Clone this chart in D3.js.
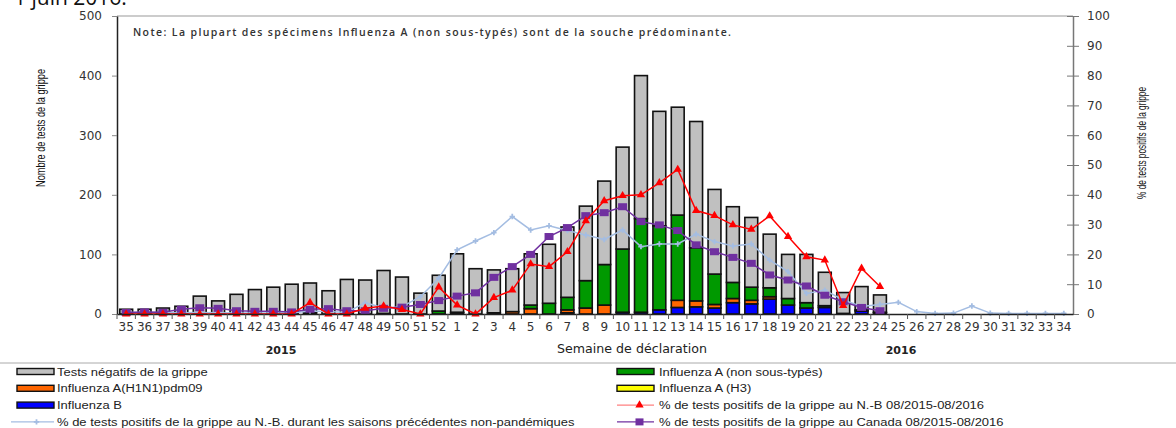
<!DOCTYPE html>
<html>
<head>
<meta charset="utf-8">
<script src="https://cdn.jsdelivr.net/npm/d3@7"></script>
<style>
  body { margin: 0; background: #fff; }
  svg text { font-family: "DejaVu Sans", sans-serif; }
</style>
</head>
<body>
<div id="chart"></div>
<script>
// weeks of the 2015-2016 season
var weeks = [35,36,37,38,39,40,41,42,43,44,45,46,47,48,49,50,51,52,
             1,2,3,4,5,6,7,8,9,10,11,12,13,14,15,16,17,18,19,20,21,22,23,24,25,26,27,28,29,30,31,32,33,34];

// counts (number of tests)
var negatives = [8,8,10,13,30,22,33,41,45,50,50,39,58,57,72,62,35,60,
                 98,76,72,72,86,99,118,125,140,171,240,192,181,212,142,127,117,90,74,81,56,35,39,29,0,0,0,0,0,0,0,0,0,0];
var fluB      = [0,0,0,0,0,0,0,0,0,0,2,0,0,0,1,0,0,0,
                 2,0,0,0,0,0,2,0,0,3,3,7,11,12,10,19,17,25,15,10,11,1,5,2,0,0,0,0,0,0,0,0,0,0];
var h1n1      = [0,0,0,0,0,0,0,0,0,0,0,0,0,0,0,0,0,0,
                 0,0,0,4,9,0,5,10,15,0,0,0,12,10,6,7,6,4,0,0,0,0,0,0,0,0,0,0,0,0,0,0,0,0];
var h3        = [0,0,0,0,0,0,0,0,0,0,0,0,0,0,0,0,0,0,
                 0,0,0,0,0,0,0,0,0,0,0,0,0,0,0,0,0,0,0,0,0,0,0,0,0,0,0,0,0,0,0,0,0,0];
var fluA      = [0,0,0,0,0,0,0,0,0,0,0,0,0,0,0,0,0,5,
                 1,0,2,0,6,18,21,46,68,106,157,141,143,89,51,27,22,15,11,9,3,0,2,1,0,0,0,0,0,0,0,0,0,0];

// percentages
var pctNB     = [0,0,0,0,0,0,0,0,0,0,3.8,0,0,1.9,2.7,1.5,0,9,
                 3,0,5.5,8,16.8,15.9,20.9,31.3,38,39.7,40,44,48.5,34.7,33,29.9,28.4,32.9,26,19.2,18.1,2.8,15.3,9.2,
                 null,null,null,null,null,null,null,null,null,null];
var pctCanada = [0.5,0.7,0.6,1.6,2.1,1.9,1.1,0.9,0.9,0.7,1.6,1.8,1.1,1.1,1.9,2.3,3.2,4.5,
                 6,7.1,12.3,15.9,20,26,29,33,34,36,31,29.9,28,23.2,20.9,19,17,13.1,11.4,9.4,6.3,4.1,2.2,1.1,
                 null,null,null,null,null,null,null,null,null,null];
var pctPrev   = [0.5,0.5,0.4,0.4,0.5,0.4,0.3,0.3,0.3,0.3,1,0.8,0.5,3.8,2,2.4,5.8,12,
                 21.5,24.5,27.3,32.7,28.2,29.6,28,26.5,25,28.2,22.6,23.5,23.5,26.8,24.3,22.8,23.5,18.1,14.2,6.9,8,4.7,2.5,3.2,
                 3.9,0.8,0.2,0.3,2.7,0.3,0.2,0.2,0.2,0.2];

var yTicksLeft = [0,100,200,300,400,500];
var yTicksRight = [0,10,20,30,40,50,60,70,80,90,100];

var W = 1176, H = 428;
var svg = d3.select("#chart").append("svg")
    .attr("width", W).attr("height", H);

// scales
var x = d3.scaleBand().domain(weeks).range([117, 1073]).paddingInner(0.3).paddingOuter(0.15);
var yL = d3.scaleLinear().domain([0, 500]).range([314, 16]);
var yR = d3.scaleLinear().domain([0, 100]).range([314, 16]);

// title (cut at top)
svg.append("text")
    .attr("x", 14).attr("y", 5)
    .attr("font-size", 21)
    .style("font-family", "'Open Sans', sans-serif")
    .attr("fill", "#111")
    .text("1 juin 2016.");

// frame top line
svg.append("line")
    .attr("x1", 117).attr("x2", 1073).attr("y1", 16).attr("y2", 16)
    .attr("stroke", "#999").attr("stroke-width", 1);

// note
svg.append("text")
    .attr("x", 133).attr("y", 36)
    .attr("font-size", 10.5)
    .attr("textLength", 598).attr("lengthAdjust", "spacing")
    .style("font-family", "'Open Sans', sans-serif")
    .attr("font-weight", 600)
    .attr("fill", "#333")
    .text("Note: La plupart des spécimens Influenza A (non sous-typés) sont de la souche prédominante.");

// stacked bars
var rows = weeks.map(function(w, i) {
  return { week: w, B: fluB[i], H1: h1n1[i], H3: h3[i], A: fluA[i], Neg: negatives[i] };
});
var keys = ["B", "H1", "H3", "A", "Neg"];
var colors = { B: "#0000ff", H1: "#ff6600", H3: "#ffff00", A: "#009900", Neg: "#c0c0c0" };
var stack = d3.stack().keys(keys)(rows);

var bars = svg.append("g");
stack.forEach(function(layer) {
  bars.append("g")
    .selectAll("rect")
    .data(layer.filter(function(d) { return d[1] - d[0] > 0; }))
    .enter().append("rect")
      .attr("x", function(d) { return x(d.data.week); })
      .attr("width", x.bandwidth())
      .attr("y", function(d) { return yL(d[1]); })
      .attr("height", function(d) { return yL(d[0]) - yL(d[1]); })
      .attr("fill", colors[layer.key])
      .attr("stroke", "#111")
      .attr("stroke-width", 1.6);
});

// lines
function makeLine(vals) {
  return d3.line()
    .defined(function(d) { return d != null; })
    .x(function(d, i) { return x(weeks[i]) + x.bandwidth() / 2; })
    .y(function(d) { return yR(d); })(vals);
}

// previous seasons (light blue, + markers)
svg.append("path")
    .attr("d", makeLine(pctPrev))
    .attr("fill", "none").attr("stroke", "#a4bde2").attr("stroke-width", 1.5);
svg.append("g").selectAll("path")
    .data(pctPrev)
    .enter().append("path")
      .attr("d", d3.symbol().type(d3.symbolCross).size(16))
      .attr("transform", function(d, i) { return "translate(" + (x(weeks[i]) + x.bandwidth() / 2) + "," + yR(d) + ")"; })
      .attr("fill", "#a4bde2");

// Canada (purple squares)
svg.append("path")
    .attr("d", makeLine(pctCanada))
    .attr("fill", "none").attr("stroke", "#7030a0").attr("stroke-width", 1.5);
svg.append("g").selectAll("rect")
    .data(pctCanada.map(function(d, i) { return { v: d, w: weeks[i] }; }).filter(function(d) { return d.v != null; }))
    .enter().append("rect")
      .attr("x", function(d) { return x(d.w) + x.bandwidth() / 2 - 4.5; })
      .attr("y", function(d) { return yR(d.v) - 3.5; })
      .attr("width", 9).attr("height", 7)
      .attr("fill", "#7030a0");

// N.-B. (red triangles)
svg.append("path")
    .attr("d", makeLine(pctNB))
    .attr("fill", "none").attr("stroke", "#ff0000").attr("stroke-width", 1.5);
svg.append("g").selectAll("path")
    .data(pctNB.map(function(d, i) { return { v: d, w: weeks[i] }; }).filter(function(d) { return d.v != null; }))
    .enter().append("path")
      .attr("d", d3.symbol().type(d3.symbolTriangle).size(30))
      .attr("transform", function(d) { return "translate(" + (x(d.w) + x.bandwidth() / 2) + "," + yR(d.v) + ")"; })
      .attr("fill", "#ff0000");

// left axis
var gL = svg.append("g")
    .attr("transform", "translate(117,0)")
    .call(d3.axisLeft(yL).tickValues(yTicksLeft).tickSize(5).tickSizeOuter(0).tickPadding(10));
gL.select(".domain").attr("stroke", "#222").attr("stroke-width", 1.5);
gL.selectAll(".tick line").attr("stroke", "#888");
gL.selectAll("text").attr("font-size", 12).attr("fill", "#333").style("font-family", "'DejaVu Sans', sans-serif");

// right axis
var gR = svg.append("g")
    .attr("transform", "translate(1073,0)")
    .call(d3.axisRight(yR).tickValues(yTicksRight).tickSize(6).tickSizeOuter(0).tickPadding(8));
gR.select(".domain").attr("stroke", "#777").attr("stroke-width", 1.5);
gR.selectAll(".tick line").attr("x1", -6).attr("stroke", "#777");
gR.selectAll("text").attr("font-size", 12).attr("fill", "#333").style("font-family", "'DejaVu Sans', sans-serif");

// bottom axis
var gX = svg.append("g")
    .attr("transform", "translate(0,314)")
    .call(d3.axisBottom(x).tickSize(0).tickPadding(8).tickSizeOuter(0));
gX.select(".domain").attr("stroke", "#222").attr("stroke-width", 1.5);
gX.selectAll("text").attr("font-size", 12).attr("fill", "#333").style("font-family", "'DejaVu Sans', sans-serif");
// separators between weeks
var gap = x.step() * x.paddingInner() / 2;
gX.append("g").selectAll("line")
    .data(weeks)
    .enter().append("line")
      .attr("x1", function(d) { return x(d) - gap; })
      .attr("x2", function(d) { return x(d) - gap; })
      .attr("y1", 0).attr("y2", 5)
      .attr("stroke", "#555");

// axis titles
svg.append("text")
    .attr("transform", "translate(45,128)rotate(-90)")
    .attr("text-anchor", "middle")
    .attr("font-size", 12)
    .attr("textLength", 118).attr("lengthAdjust", "spacingAndGlyphs")
    .style("font-family", "'Liberation Sans', sans-serif")
    .attr("fill", "#111")
    .text("Nombre de tests de la grippe");

svg.append("text")
    .attr("transform", "translate(1146,143)rotate(-90)")
    .attr("text-anchor", "middle")
    .attr("font-size", 12)
    .attr("textLength", 112).attr("lengthAdjust", "spacingAndGlyphs")
    .style("font-family", "'Liberation Sans', sans-serif")
    .attr("fill", "#111")
    .text("% de tests positifs de la grippe");

svg.append("text")
    .attr("x", 281).attr("y", 354).attr("text-anchor", "middle")
    .attr("font-size", 11).attr("font-weight", "bold").attr("fill", "#222")
    .text("2015");
svg.append("text")
    .attr("x", 632).attr("y", 353).attr("text-anchor", "middle")
    .attr("font-size", 11.5)
    .attr("textLength", 150).attr("lengthAdjust", "spacingAndGlyphs")
    .attr("fill", "#222")
    .text("Semaine de déclaration");
svg.append("text")
    .attr("x", 901).attr("y", 354).attr("text-anchor", "middle")
    .attr("font-size", 11).attr("font-weight", "bold").attr("fill", "#222")
    .text("2016");

// legend
svg.append("line")
    .attr("x1", 0).attr("x2", W).attr("y1", 363).attr("y2", 363)
    .attr("stroke", "#aaa").attr("stroke-width", 1);

var legendItems = [
  { col: 0, row: 0, type: "bar", color: colors.Neg, label: "Tests négatifs de la grippe" },
  { col: 1, row: 0, type: "bar", color: colors.A, label: "Influenza A (non sous-typés)" },
  { col: 0, row: 1, type: "bar", color: colors.H1, label: "Influenza A(H1N1)pdm09" },
  { col: 1, row: 1, type: "bar", color: colors.H3, label: "Influenza A (H3)" },
  { col: 0, row: 2, type: "bar", color: colors.B, label: "Influenza B" },
  { col: 1, row: 2, type: "tri", color: "#ff0000", label: "% de tests positifs de la grippe  au N.-B 08/2015-08/2016" },
  { col: 0, row: 3, type: "cross", color: "#a4bde2", label: "% de tests positifs de la grippe  au N.-B. durant les saisons précédentes non-pandémiques" },
  { col: 1, row: 3, type: "sq", color: "#7030a0", label: "% de tests positifs de la grippe  au Canada 08/2015-08/2016" }
];

var lg = svg.append("g").selectAll("g")
    .data(legendItems)
    .enter().append("g")
      .attr("transform", function(d) { return "translate(" + (d.col ? 617 : 17) + "," + (371.5 + d.row * 16.8) + ")"; });

lg.each(function(d) {
  var g = d3.select(this);
  var sw = 37;
  if (d.type === "bar") {
    g.append("rect").attr("x", 0).attr("y", -3).attr("width", sw).attr("height", 6)
      .attr("fill", d.color).attr("stroke", "#111").attr("stroke-width", 1.4);
  } else {
    var lx0 = d.col ? 0 : -6;
    g.append("line").attr("x1", lx0).attr("x2", sw).attr("y1", 0).attr("y2", 0)
      .attr("stroke", d.type === "tri" ? "#ff8080" : d.color).attr("stroke-width", 1.3);
    var mx = (lx0 + sw) / 2 + 4;
    if (d.type === "tri") {
      g.append("path").attr("d", d3.symbol().type(d3.symbolTriangle).size(30))
        .attr("transform", "translate(" + mx + ",0)").attr("fill", "#ff0000");
    } else if (d.type === "sq") {
      g.append("rect").attr("x", mx - 4).attr("y", -3.5).attr("width", 8).attr("height", 7).attr("fill", d.color);
    } else {
      g.append("path").attr("d", d3.symbol().type(d3.symbolCross).size(16))
        .attr("transform", "translate(" + mx + ",0)").attr("fill", d.color);
    }
  }
  g.append("text")
    .attr("transform", "translate(" + (d.col ? 42 : 40) + ",4) scale(1.18,1)")
    .attr("font-size", 11)
    .style("font-family", "'Liberation Sans', Arial, sans-serif")
    .attr("fill", "#222")
    .text(d.label);
});
</script>
</body>
</html>
